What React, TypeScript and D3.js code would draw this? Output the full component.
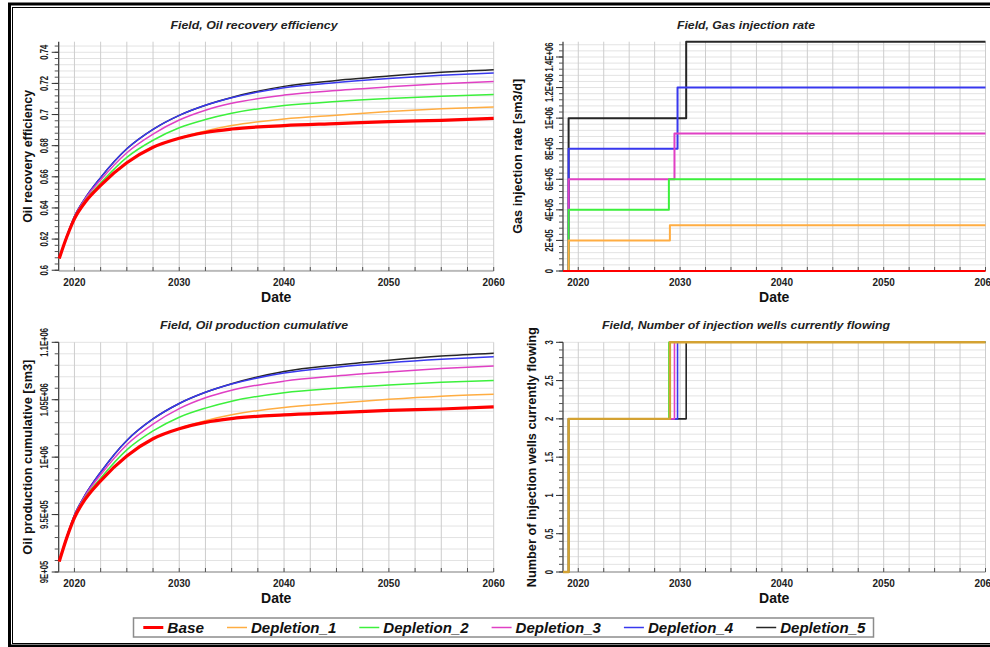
import React from "react";
import * as d3 from "d3";

// ---- data ----
const seriesNames = ["Base", "Depletion_1", "Depletion_2", "Depletion_3", "Depletion_4", "Depletion_5"];
const seriesColors = ["#ff0000", "#ffad42", "#3cf03c", "#e040c4", "#3838ee", "#262626"];

const years = [2018.55, 2019.25, 2020, 2021, 2022.5, 2025, 2027.5, 2030, 2032.5, 2035, 2040, 2045, 2050, 2055, 2060];

const recoveryBase = [0.6075, 0.621, 0.633, 0.6435, 0.6545, 0.669, 0.679, 0.6848, 0.6885, 0.6907, 0.6929, 0.6942, 0.6955, 0.6963, 0.6975];
const recoveryDep1 = [0.6075, 0.621, 0.633, 0.6435, 0.6545, 0.669, 0.679, 0.685, 0.6895, 0.6929, 0.6972, 0.6996, 0.7019, 0.7037, 0.7049];
const recoveryDep2 = [0.6075, 0.621, 0.6335, 0.6445, 0.656, 0.6725, 0.6835, 0.6915, 0.6968, 0.7008, 0.7058, 0.7084, 0.7103, 0.7118, 0.7129];
const recoveryDep3 = [0.6075, 0.621, 0.634, 0.6455, 0.658, 0.6755, 0.6875, 0.6965, 0.7028, 0.7072, 0.7125, 0.7155, 0.7178, 0.7198, 0.7213];
const recoveryDep4 = [0.6075, 0.6215, 0.6345, 0.646, 0.6595, 0.678, 0.6905, 0.6995, 0.706, 0.7108, 0.7172, 0.7206, 0.7232, 0.7252, 0.7267];
const recoveryDep5 = [0.6075, 0.6215, 0.6345, 0.646, 0.6595, 0.678, 0.6905, 0.6995, 0.706, 0.711, 0.7181, 0.7219, 0.7247, 0.7271, 0.7288];

const cumBase = [909060, 929260, 947220, 962930, 979390, 1001090, 1016060, 1024740, 1030270, 1033560, 1036860, 1038800, 1040750, 1041940, 1043740];
const cumDep1 = [909060, 929260, 947220, 962930, 979390, 1001090, 1016060, 1025030, 1031770, 1036860, 1043290, 1046880, 1050320, 1053020, 1054810];
const cumDep2 = [909060, 929260, 947970, 964430, 981640, 1006330, 1022790, 1034760, 1042690, 1048680, 1056160, 1060050, 1062890, 1065140, 1066780];
const cumDep3 = [909060, 929260, 948720, 965930, 984630, 1010820, 1028780, 1042240, 1051670, 1058250, 1066190, 1070670, 1074120, 1077110, 1079350];
const cumDep4 = [909060, 930010, 949470, 966670, 986880, 1014560, 1033260, 1046730, 1056460, 1063640, 1073220, 1078310, 1082200, 1085190, 1087430];
const cumDep5 = [909060, 930010, 949470, 966670, 986880, 1014560, 1033260, 1046730, 1056460, 1063940, 1074570, 1080250, 1084440, 1088030, 1090580];

const injectionStart = 2019.05;
const switchYears = [2060, 2029.0, 2028.9, 2029.45, 2029.75, 2030.6];
const gasRateBefore = [0, 200000, 400000, 600000, 800000, 1000000];
const gasRateAfter = [0, 300000, 600000, 900000, 1200000, 1500000];
const wellsBefore = [null, 2, 2, 2, 2, 2];
const wellsAfter = [null, 3, 3, 3, 3, 3];

const X_MIN = 2018.5;
const X_MAX = 2060;
const FONT = "'Liberation Sans', Arial, sans-serif";

type Pt = [number, number];
type Series = { name: string; color: string; width: number; points: Pt[]; step: boolean };

const sci = (v: number) => {
  if (v === 0) return "0";
  const e = Math.floor(Math.log10(v) + 1e-9);
  const m = +(v / Math.pow(10, e)).toFixed(3);
  return `${m}E+${String(e).padStart(2, "0")}`;
};
const plain = (v: number) => String(+v.toFixed(3));

function curveSeries(vals: number[][], lineWidths: number[]): Series[] {
  return vals.map((arr, i) => ({
    name: seriesNames[i],
    color: seriesColors[i],
    width: lineWidths[i],
    step: false,
    points: years.map((yr, j) => [yr, arr[j]] as Pt),
  }));
}

function stepSeries(before: (number | null)[], after: (number | null)[], widths: number[], colors: string[]): Series[] {
  const out: Series[] = [];
  before.forEach((b, i) => {
    if (b === null) return;
    const a = after[i] as number;
    out.push({
      name: seriesNames[i],
      color: colors[i],
      width: widths[i],
      step: true,
      points: [[X_MIN, 0], [injectionStart, b], [switchYears[i], a], [X_MAX, a]],
    });
  });
  return out;
}

type PanelProps = {
  box: { x0: number; x1: number; y0: number; y1: number };
  title: string;
  titleX: number;
  titleLen: number;
  yTitle: string;
  yTitleX: number;
  yTitleLen: number;
  yDomain: [number, number];
  yMajor: number[];
  yMinorStep: number;
  yMinorStart: number;
  yFmt: (v: number) => string;
  labelOffset: number;
  series: Series[];
};

function Panel(p: PanelProps) {
  const { box } = p;
  const x = d3.scaleLinear().domain([X_MIN, X_MAX]).range([box.x0, box.x1]);
  const y = d3.scaleLinear().domain(p.yDomain).range([box.y1, box.y0]);
  const gridYears = d3.range(2020, X_MAX + 0.01, 2.5);
  const majorYears = d3.range(2020, X_MAX + 0.01, 10);
  const minor = d3.range(p.yMinorStart, p.yDomain[1] + 1e-9, p.yMinorStep);
  const cy = (box.y0 + box.y1) / 2;

  const drawn = [...p.series].reverse();
  return (
    <g>
      <text x={p.titleX} y={box.y0 - 13} textAnchor="middle" fontFamily={FONT} fontSize={11.5}
        fontWeight="bold" fontStyle="italic" fill="#222" textLength={p.titleLen} lengthAdjust="spacingAndGlyphs">
        {p.title}
      </text>
      {minor.map((v, i) => (
        <line key={"hg" + i} x1={box.x0} x2={box.x1} y1={y(v)} y2={y(v)} stroke="#e3e3e3" strokeWidth={1} />
      ))}
      {gridYears.map((yr) => (
        <line key={"vg" + yr} x1={x(yr)} x2={x(yr)} y1={box.y0} y2={box.y1} stroke="#cdcdcd" strokeWidth={1} />
      ))}
      {/* y axis */}
      <line x1={box.x0} x2={box.x0} y1={box.y0} y2={box.y1} stroke="#333" strokeWidth={1.2} />
      {minor.map((v, i) => (
        <line key={"mt" + i} x1={box.x0 - 4} x2={box.x0} y1={y(v)} y2={y(v)} stroke="#555" strokeWidth={1} />
      ))}
      {p.yMajor.map((v) => (
        <g key={"yt" + v}>
          <line x1={box.x0 - 7} x2={box.x0} y1={y(v)} y2={y(v)} stroke="#333" strokeWidth={1} />
          <text transform={`translate(${box.x0 - p.labelOffset},${y(v)}) rotate(-90) scale(0.7,1)`} textAnchor="middle"
            dominantBaseline="central" fontFamily={FONT} fontSize={11} fontWeight="bold" fill="#222">
            {p.yFmt(v)}
          </text>
        </g>
      ))}
      <text transform={`translate(${p.yTitleX},${cy}) rotate(-90)`} textAnchor="middle" dominantBaseline="central"
        fontFamily={FONT} fontSize={13} fontWeight="bold" fill="#111" textLength={p.yTitleLen} lengthAdjust="spacingAndGlyphs">
        {p.yTitle}
      </text>
      {/* x axis */}
      <line x1={box.x0} x2={box.x1} y1={box.y1} y2={box.y1} stroke="#8a8a8a" strokeWidth={1.2} />
      {gridYears.map((yr) => (
        <line key={"xt" + yr} x1={x(yr)} x2={x(yr)} y1={box.y1} y2={box.y1 - 4} stroke="#555" strokeWidth={1} />
      ))}
      {majorYears.map((yr) => (
        <text key={"xl" + yr} x={x(yr)} y={box.y1 + 14.5} textAnchor="middle" fontFamily={FONT} fontSize={10}
          fontWeight="bold" fill="#222">
          {yr}
        </text>
      ))}
      <text x={(box.x0 + box.x1) / 2} y={box.y1 + 30.5} textAnchor="middle" fontFamily={FONT} fontSize={14}
        fontWeight="bold" fill="#111">
        Date
      </text>
      {drawn.map((s) => {
        const line = d3.line<Pt>()
          .x((d) => x(d[0]))
          .y((d) => y(d[1]))
          .curve(s.step ? d3.curveStepAfter : d3.curveMonotoneX);
        return (
          <path key={s.name} d={line(s.points) || ""} fill="none" stroke={s.color} strokeWidth={s.width}
            strokeLinejoin="round" />
        );
      })}
    </g>
  );
}

function Legend() {
  const textLens = seriesNames.map((n) => (n === "Base" ? 36.7 : 85.3));
  let cx = 143.3;
  const items = seriesNames.map((n, i) => {
    const item = { name: n, color: seriesColors[i], x: cx, len: textLens[i] };
    cx += 24 + textLens[i] + 23;
    return item;
  });
  return (
    <g>
      <rect x={133.5} y={618} width={740} height={19} fill="#fff" stroke="#8c8c8c" strokeWidth={1.5} />
      {items.map((it, i) => (
        <g key={it.name}>
          <line x1={it.x} x2={it.x + 20} y1={627.5} y2={627.5} stroke={it.color} strokeWidth={i === 0 ? 3 : 1.5} />
          <text x={it.x + 24} y={632.5} fontFamily={FONT} fontSize={14.5} fontWeight="bold" fontStyle="italic"
            fill="#111" textLength={it.len} lengthAdjust="spacingAndGlyphs">
            {it.name}
          </text>
        </g>
      ))}
    </g>
  );
}

export default function App() {
  const oilWidths = [3.2, 1.5, 1.5, 1.5, 1.5, 1.5];
  const stepWidths = [2.2, 2, 2, 2, 2, 2];
  const wellColors = seriesColors.map((c, i) => (i === 1 ? "#d4a232" : c));
  const wellWidths = [2, 2.4, 1.6, 1.6, 1.6, 1.6];

  const top = { y0: 41.7, y1: 271 };
  const bottom = { y0: 342.3, y1: 572 };
  const left = { x0: 58.7, x1: 493.7 };
  const right = { x0: 563, x1: 985.5 };

  return (
    <svg width={990} height={647} style={{ position: "absolute", left: 0, top: 0, background: "#fff" }}>
      <rect x={0} y={0} width={990} height={647} fill="#fff" />
      <rect x={9.5} y={4} width={1000} height={642} fill="none" stroke="#000" strokeWidth={3} />
      <rect x={12.5} y={7.5} width={1000} height={636} fill="none" stroke="#000" strokeWidth={1} />

      <Panel box={{ ...left, ...top }} title="Field, Oil recovery efficiency" titleX={254} titleLen={167}
        yTitle="Oil recovery efficiency" yTitleX={27} yTitleLen={133}
        yDomain={[0.5995, 0.7468]} yMajor={[0.6, 0.62, 0.64, 0.66, 0.68, 0.7, 0.72, 0.74]}
        yMinorStart={0.6} yMinorStep={0.004} yFmt={plain} labelOffset={14.5}
        series={curveSeries([recoveryBase, recoveryDep1, recoveryDep2, recoveryDep3, recoveryDep4, recoveryDep5], oilWidths)} />

      <Panel box={{ ...right, ...top }} title="Field, Gas injection rate" titleX={746} titleLen={138}
        yTitle="Gas injection rate [sm3/d]" yTitleX={517.3} yTitleLen={155}
        yDomain={[0, 1500000]} yMajor={[0, 200000, 400000, 600000, 800000, 1000000, 1200000, 1400000]}
        yMinorStart={0} yMinorStep={40000} yFmt={sci} labelOffset={14}
        series={stepSeries(gasRateBefore, gasRateAfter, stepWidths, seriesColors)} />

      <Panel box={{ ...left, ...bottom }} title="Field, Oil production cumulative" titleX={254} titleLen={188}
        yTitle="Oil production cumulative [sm3]" yTitleX={27} yTitleLen={195}
        yDomain={[900000, 1100000]} yMajor={[900000, 950000, 1000000, 1050000, 1100000]}
        yMinorStart={900000} yMinorStep={10000} yFmt={sci} labelOffset={14.5}
        series={curveSeries([cumBase, cumDep1, cumDep2, cumDep3, cumDep4, cumDep5], oilWidths)} />

      <Panel box={{ ...right, ...bottom }} title="Field, Number of injection wells currently flowing" titleX={746}
        titleLen={288} yTitle="Number of injection wells currently flowing" yTitleX={531.7} yTitleLen={260}
        yDomain={[0, 3]} yMajor={[0, 0.5, 1, 1.5, 2, 2.5, 3]}
        yMinorStart={0} yMinorStep={0.1} yFmt={plain} labelOffset={14}
        series={stepSeries(wellsBefore, wellsAfter, wellWidths, wellColors)} />

      <Legend />
    </svg>
  );
}
